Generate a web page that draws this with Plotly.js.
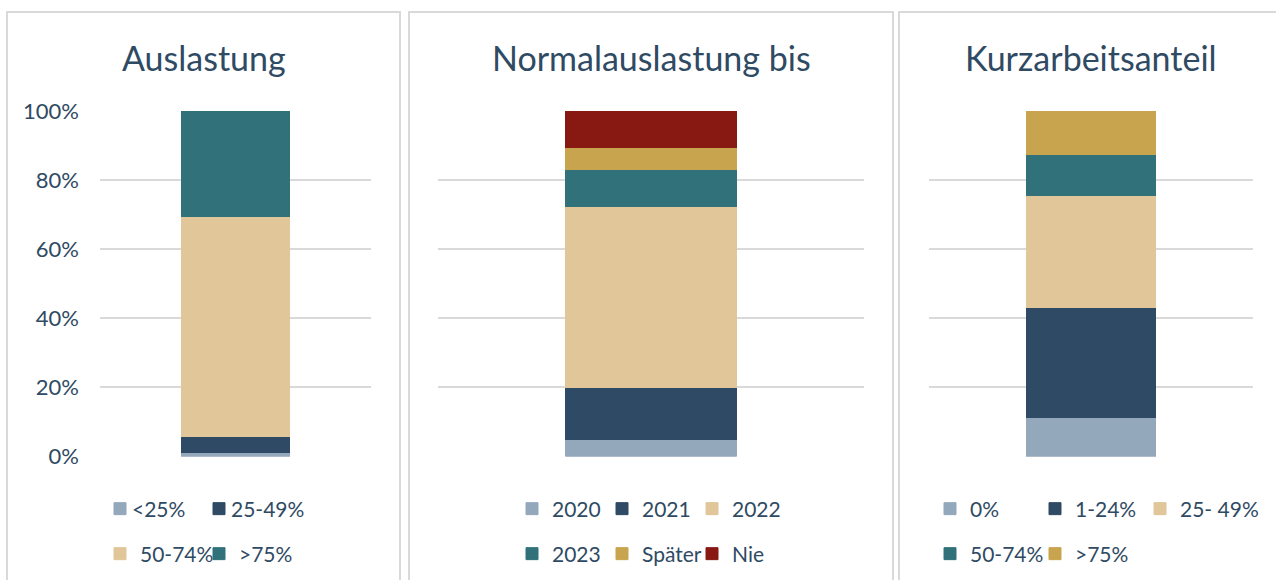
<!DOCTYPE html>
<html>
<head>
<meta charset="utf-8">
<script src="https://cdn.plot.ly/plotly-3.0.1.min.js"></script>
<style>
html,body{margin:0;padding:0;background:#fff;}
#chart{width:1276px;height:580px;}
</style>
</head>
<body>
<div id="chart"></div>
<script>
// ---- data ----
const panelTitles = ['Auslastung', 'Normalauslastung bis', 'Kurzarbeitsanteil'];
const auslastungCats = ['<25%', '25-49%', '50-74%', '>75%'];
const auslastungVals = [0.011, 0.046, 0.639, 0.304];
const normalCats = ['2020', '2021', '2022', '2023', 'Später', 'Nie'];
const normalVals = [0.048, 0.153, 0.524, 0.107, 0.061, 0.107];
const kurzCats = ['0%', '1-24%', '25- 49%', '50-74%', '>75%'];
const kurzVals = [0.114, 0.316, 0.324, 0.119, 0.127];
const yTickVals = [0, 0.2, 0.4, 0.6, 0.8, 1.0];
const yTickText = ['0%', '20%', '40%', '60%', '80%', '100%'];

// ---- styles ----
const W = 1276, H = 580;
const px = x => x / W;
const py = y => 1 - y / H;
const FONT = 'Lato, "Open Sans", sans-serif';
const TXT = '#2f4a63';
const GRID = '#d9d9d9';
const C_LIGHT = '#94a8bc', C_DARK = '#2e4a64', C_SAND = '#e0c698', C_TEAL = '#31727a', C_GOLD = '#c9a44f', C_RED = '#881812';
const colors1 = [C_LIGHT, C_DARK, C_SAND, C_TEAL];
const colors2 = [C_LIGHT, C_DARK, C_SAND, C_TEAL, C_GOLD, C_RED];
const colors3 = [C_LIGHT, C_DARK, C_SAND, C_TEAL, C_GOLD];

// legend row assignment per panel (row 1 / row 2)
const rows1 = ['legend', 'legend', 'legend2', 'legend2'];
const rows2 = ['legend3', 'legend3', 'legend3', 'legend4', 'legend4', 'legend4'];
const rows3 = ['legend5', 'legend5', 'legend5', 'legend6', 'legend6'];
// pixel width of each legend entry's text slot (last entry of a row gets room for its text)
const ew1 = [54, 80, 54, 70];
const ew2 = [45, 45, 70, 45, 45, 50];
const ew3 = [60, 60, 80, 60, 70];

const traces = [];
function addPanel(cats, vals, cols, rows, ews, idx) {
  const ax = idx === 1 ? '' : String(idx);
  cats.forEach((c, i) => {
    traces.push({
      type: 'bar', name: c, x: [panelTitles[idx - 1]], y: [vals[i]],
      xaxis: 'x' + ax, yaxis: 'y' + ax,
      marker: {color: cols[i], line: {color: cols[i], width: 1}},
      legend: rows[i], legendwidth: ews[i], hoverinfo: 'name+y'
    });
  });
}
addPanel(auslastungCats, auslastungVals, colors1, rows1, ew1, 1);
addPanel(normalCats, normalVals, colors2, rows2, ew2, 2);
addPanel(kurzCats, kurzVals, colors3, rows3, ew3, 3);

const plotX = [[100, 371], [438, 864], [929, 1253]];
const yDom = [py(456.5), py(111)];

function xAxis(i) {
  return {domain: [px(plotX[i][0]), px(plotX[i][1])], showticklabels: false, showgrid: false,
          zeroline: false, showline: false, ticks: '', fixedrange: true};
}
function yAxis(i, labels) {
  return {domain: yDom, range: [0, 1], tickvals: yTickVals, ticktext: yTickText,
          showticklabels: labels, showgrid: true, gridcolor: GRID, gridwidth: 2,
          zeroline: false, showline: false, ticks: '', ticklabelstandoff: 20,
          tickfont: {family: FONT, size: 22, color: TXT}, fixedrange: true,
          anchor: i === 0 ? 'x' : 'x' + (i + 1)};
}

function legend(xPix, yPix) {
  return {orientation: 'h', x: px(xPix), y: py(yPix), xanchor: 'left', yanchor: 'middle',
          font: {family: FONT, size: 21, color: TXT}, bgcolor: 'rgba(0,0,0,0)',
          entrywidthmode: 'pixels', traceorder: 'normal', itemclick: false, itemdoubleclick: false};
}

const borderLine = {color: GRID, width: 2};
const titleFont = {family: FONT, size: 34, color: TXT};
const layout = {
  width: W, height: H, margin: {l: 0, r: 0, t: 0, b: 0},
  paper_bgcolor: '#fff', plot_bgcolor: '#fff',
  barmode: 'stack', bargap: 0.6, showlegend: true,
  font: {family: FONT, color: TXT},
  xaxis: xAxis(0), yaxis: yAxis(0, true),
  xaxis2: Object.assign(xAxis(1), {anchor: 'y2'}), yaxis2: yAxis(1, false),
  xaxis3: Object.assign(xAxis(2), {anchor: 'y3'}), yaxis3: yAxis(2, false),
  legend: legend(100, 509),
  legend2: legend(100, 554),
  legend3: legend(512, 509),
  legend4: legend(512, 554),
  legend5: legend(930, 509),
  legend6: legend(930, 554),
  shapes: [
    {type: 'rect', xref: 'paper', yref: 'paper', x0: px(7), x1: px(400), y0: py(600), y1: py(12), line: borderLine, layer: 'below'},
    {type: 'rect', xref: 'paper', yref: 'paper', x0: px(409), x1: px(893), y0: py(600), y1: py(12), line: borderLine, layer: 'below'},
    {type: 'rect', xref: 'paper', yref: 'paper', x0: px(899), x1: px(1290), y0: py(600), y1: py(12), line: borderLine, layer: 'below'}
  ],
  annotations: panelTitles.map((t, i) => ({
    text: t, x: px([203.5, 651, 1091][i]), y: py(57), xref: 'paper', yref: 'paper',
    showarrow: false, xanchor: 'center', yanchor: 'middle', font: titleFont
  }))
};

Plotly.newPlot('chart', traces, layout, {displayModeBar: false, staticPlot: true}).then(gd => {
  // tighten the gap between legend swatch and its label (Excel-style spacing)
  gd.querySelectorAll('.legendtext').forEach(t => {
    const x = parseFloat(t.getAttribute('x')) || 40;
    t.setAttribute('x', x - 8);
    t.querySelectorAll('tspan[x]').forEach(s => s.setAttribute('x', parseFloat(s.getAttribute('x')) - 8));
  });
});
</script>
</body>
</html>
